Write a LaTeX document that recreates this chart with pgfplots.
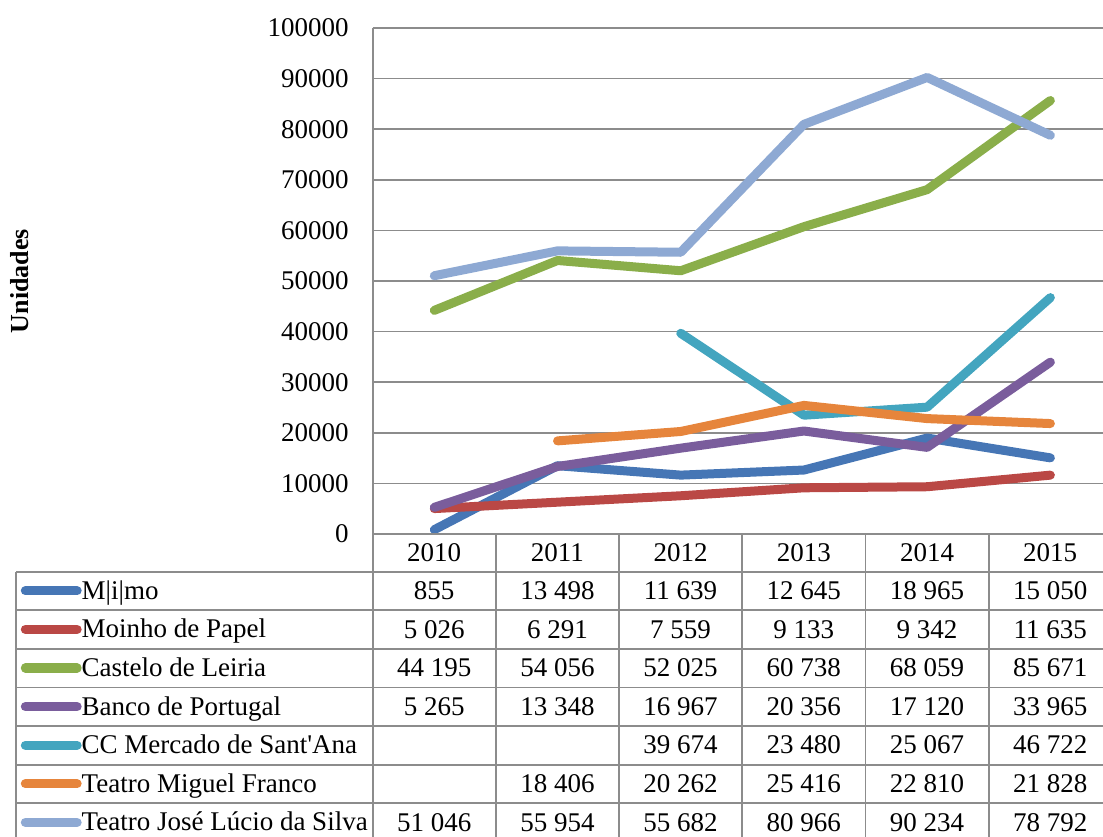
\documentclass[border=0pt]{standalone}
\usepackage{fontspec}
\setmainfont{Liberation Serif}
\usepackage{pgfplots}
\pgfplotsset{compat=1.18}
\definecolor{cMimo}{HTML}{4676B5}
\definecolor{cMoinho}{HTML}{BA4845}
\definecolor{cCastelo}{HTML}{8AAE4A}
\definecolor{cBanco}{HTML}{7A5D9C}
\definecolor{cCC}{HTML}{43A5BF}
\definecolor{cTMF}{HTML}{E6853C}
\definecolor{cTJLS}{HTML}{8EA9D3}
\definecolor{gridc}{HTML}{8C8C8C}
\newcommand{\tabfont}{\fontsize{13.5}{15}\selectfont}
\newcommand{\cell}[3]{\node[anchor=base, inner sep=0pt] at ({434.2+123.2*#1}, {571.7+38.6*#2+27.8}) {#3};}
\begin{document}
\begin{tikzpicture}[font=\tabfont]
\begin{axis}[
  at={(186.35pt,-267pt)}, anchor=south west,
  scale only axis, width=369.65pt, height=253pt,
  xmin=-0.5, xmax=5.5, ymin=0, ymax=100000,
  clip=false,
  axis line style={draw=none},
  major tick style={draw=none},
  xtick=\empty,
  ytick={0,10000,...,100000},
  scaled y ticks=false,
  yticklabel style={/pgf/number format/fixed, /pgf/number format/precision=0, /pgf/number format/1000 sep={}, /pgf/number format/assume math mode=true},
  yticklabel style={anchor=east, inner sep=0pt, xshift=-11.85pt, font=\tabfont},
  ymajorgrids,
  major grid style={draw=gridc, line width=0.8pt},
  every axis plot/.append style={line width=4.5pt, line join=round, line cap=round, no markers},
  legend style={at={(-0.4760,-0.0741)}, anchor=north west, draw=none, fill=none,
    inner sep=0pt, outer sep=0pt, row sep=0pt, column sep=0pt, font=\tabfont,
    nodes={inner sep=0pt, outer sep=0pt, text height=13.9pt, text depth=5.4pt}},
  legend cell align=left,
  legend image code/.code={\draw[#1, line width=4.6pt, line cap=round] (0pt,0pt) -- (25.85pt,0pt);},
]
\addplot[cMimo] coordinates {(0,855) (1,13498) (2,11639) (3,12645) (4,18965) (5,15050)};
\addlegendentry{M|i|mo}
\addplot[cMoinho] coordinates {(0,5026) (1,6291) (2,7559) (3,9133) (4,9342) (5,11635)};
\addlegendentry{Moinho de Papel}
\addplot[cCastelo] coordinates {(0,44195) (1,54056) (2,52025) (3,60738) (4,68059) (5,85671)};
\addlegendentry{Castelo de Leiria}
\addplot[cBanco] coordinates {(0,5265) (1,13348) (2,16967) (3,20356) (4,17120) (5,33965)};
\addlegendentry{Banco de Portugal}
\addplot[cCC] coordinates {(2,39674) (3,23480) (4,25067) (5,46722)};
\addlegendentry{CC Mercado de Sant\textquotesingle Ana}
\addplot[cTMF] coordinates {(1,18406) (2,20262) (3,25416) (4,22810) (5,21828)};
\addlegendentry{Teatro Miguel Franco}
\addplot[cTJLS] coordinates {(0,51046) (1,55954) (2,55682) (3,80966) (4,90234) (5,78792)};
\addlegendentry{Teatro José Lúcio da Silva}
\end{axis}
\begin{scope}[x=0.5pt, y=-0.5pt]
  % y axis title
  \node[rotate=90, font=\fontsize{13}{15}\selectfont\bfseries, inner sep=0pt] at (20,281) {Unidades};
  % table lines
  \draw[gridc, line width=0.9pt] (372.7,28) -- (372.7,845);
  \draw[gridc, line width=0.9pt] (372.7,534) -- (1115,534);
  \foreach \xx in {495.9,619.1,742.3,865.5,988.7} {
    \draw[gridc, line width=0.9pt] (\xx,534) -- (\xx,845);
  }
  \draw[gridc, line width=0.9pt] (16,571.7) -- (16,845);
  \foreach \k in {0,...,6} {
    \draw[gridc, line width=0.9pt] (16,{571.7+38.6*\k}) -- (1115,{571.7+38.6*\k});
  }
  % header
  \foreach \i/\yr in {0/2010,1/2011,2/2012,3/2013,4/2014,5/2015} {
    \node[anchor=base, inner sep=0pt] at ({434.2+123.2*\i},561.7) {\yr};
  }
  % rows
  \cell{0}{0}{855}\cell{1}{0}{13 498}\cell{2}{0}{11 639}\cell{3}{0}{12 645}\cell{4}{0}{18 965}\cell{5}{0}{15 050}
  \cell{0}{1}{5 026}\cell{1}{1}{6 291}\cell{2}{1}{7 559}\cell{3}{1}{9 133}\cell{4}{1}{9 342}\cell{5}{1}{11 635}
  \cell{0}{2}{44 195}\cell{1}{2}{54 056}\cell{2}{2}{52 025}\cell{3}{2}{60 738}\cell{4}{2}{68 059}\cell{5}{2}{85 671}
  \cell{0}{3}{5 265}\cell{1}{3}{13 348}\cell{2}{3}{16 967}\cell{3}{3}{20 356}\cell{4}{3}{17 120}\cell{5}{3}{33 965}
  \cell{2}{4}{39 674}\cell{3}{4}{23 480}\cell{4}{4}{25 067}\cell{5}{4}{46 722}
  \cell{1}{5}{18 406}\cell{2}{5}{20 262}\cell{3}{5}{25 416}\cell{4}{5}{22 810}\cell{5}{5}{21 828}
  \cell{0}{6}{51 046}\cell{1}{6}{55 954}\cell{2}{6}{55 682}\cell{3}{6}{80 966}\cell{4}{6}{90 234}\cell{5}{6}{78 792}
  \pgfresetboundingbox
  \path[use as bounding box] (0,0) rectangle (1103,836);
\end{scope}
\end{tikzpicture}
\end{document}
